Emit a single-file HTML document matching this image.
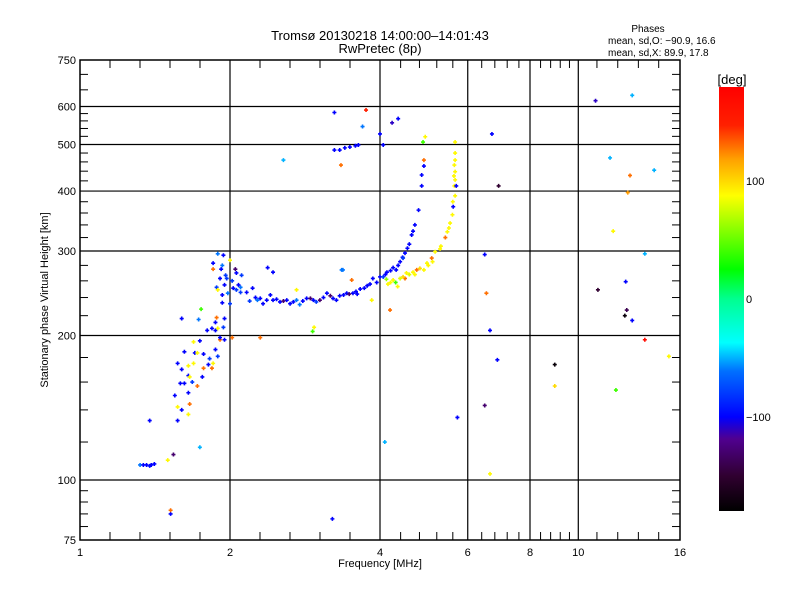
<!DOCTYPE html>
<html><head><meta charset="utf-8">
<style>
html,body{margin:0;padding:0;background:#fff;}
svg{display:block;font-family:"Liberation Sans",sans-serif;}
</style></head>
<body>
<svg id="chart" width="800" height="600" viewBox="0 0 800 600" xmlns="http://www.w3.org/2000/svg">
<defs>
<linearGradient id="cmap" x1="0" y1="1" x2="0" y2="0">
<stop offset="0" stop-color="#000000"/>
<stop offset="0.083" stop-color="#300030"/>
<stop offset="0.17" stop-color="#500090"/>
<stop offset="0.222" stop-color="#0000ff"/>
<stop offset="0.33" stop-color="#0070ff"/>
<stop offset="0.397" stop-color="#00ffff"/>
<stop offset="0.5" stop-color="#00ff90"/>
<stop offset="0.57" stop-color="#00ff00"/>
<stop offset="0.744" stop-color="#ffff00"/>
<stop offset="0.83" stop-color="#ffa000"/>
<stop offset="0.91" stop-color="#ff2000"/>
<stop offset="1" stop-color="#ff0000"/>
</linearGradient>
</defs>
<text x="380" y="40" font-size="13" text-anchor="middle">Tromsø 20130218 14:00:00–14:01:43</text>
<text x="380" y="53" font-size="13" text-anchor="middle">RwPretec (8p)</text>
<text x="648" y="32" font-size="10" text-anchor="middle">Phases</text>
<text x="608" y="44" font-size="10">mean, sd,O: −90.9, 16.6</text>
<text x="608" y="56" font-size="10">mean, sd,X:  89.9, 17.8</text>
<g id="grid"></g>
<g id="marks"></g>
<rect x="80" y="60" width="600" height="480" fill="none" stroke="#000" stroke-width="1.5"/>
<g id="axes"></g>
<text x="380" y="567" font-size="11" text-anchor="middle">Frequency [MHz]</text>
<text x="0" y="0" font-size="11" text-anchor="middle" transform="translate(48,300) rotate(-90)">Stationary phase Virtual Height [km]</text>
<rect x="719" y="87" width="25" height="424" fill="url(#cmap)"/>
<text x="732" y="84" font-size="13" text-anchor="middle">[deg]</text>
<g id="cbticks"></g>
</svg>
<script>
const freqs=[1.32,1.34,1.36,1.38,1.39,1.41,1.38,1.50,1.54,1.52,1.52,
1.57,1.60,1.65,1.57,1.65,1.66,1.59,1.62,1.72,1.76,1.65,1.66,1.57,1.65,1.69,1.77,1.84,1.81,1.85,
1.62,1.70,1.72,1.77,1.82,1.89,1.69,1.87,1.91,1.91,1.95,1.84,1.87,1.89,1.94,1.87,1.88,1.95,1.60,1.73,1.75,
1.89,1.94,2.0,1.85,1.85,1.93,2.05,2.11,1.91,1.97,2.03,2.10,2.16,2.22,2.27,1.88,1.93,2.0,1.89,2.10,1.96,2.06,1.93,
2.30,2.37,2.41,2.44,2.52,2.60,2.72,2.76,2.85,2.94,3.03,3.13,3.22,3.32,3.43,3.53,3.65,3.77,3.87,4.0,4.13,4.25,4.39,4.49,4.54,4.63,4.70,4.78,4.85,4.85,4.90,
2.19,2.33,2.64,2.98,3.27,3.60,3.94,4.06,4.31,4.44,
2.38,2.44,2.72,3.37,3.51,3.85,2.95,2.93,4.19,2.30,
4.15,4.25,4.39,4.52,4.66,4.81,4.97,5.08,5.16,5.28,5.41,5.46,5.53,5.59,5.61,5.66,5.64,5.66,5.66,5.64,5.66,5.66,4.93,4.88,4.90,5.69,4.30,4.49,4.74,4.34,5.0,
3.24,3.32,3.40,3.48,3.57,3.62,3.24,3.75,3.69,4.0,4.23,4.35,4.06,3.34,
2.56,3.35,3.21,4.09,2.02,6.49,6.54,6.65,6.88,6.49,6.65,5.72,6.71,6.92,8.97,8.97,10.83,12.83,11.58,11.75,12.70,12.57,10.95,12.45,12.51,12.4,12.83,13.6,13.6,14.2,15.2,11.9,1.74,
2.25,2.48,2.56,2.68,2.80,2.90,3.08,3.18,3.38,3.47,3.58,3.72,3.82,4.1,4.2,4.35,4.45,4.58,4.66,
4.2,4.45,4.58,4.7,4.9,5.1,5.3,5.5,5.6,5.63,5.66,4.12,
1.95,2.02,2.08,1.98,1.92,2.06,1.55,1.6,1.68,1.74,1.8];
const heights=[107.5,107.5,107.5,107,107.5,108,133,110,113,85,86.5,
133,140,137,142,152,144,159,159,157,164,165,164,175,173,175,171,171,174,175,
185,184,184,183,179,181,194,187,196,198,196,207,205,207,208,213,218,217,217,216,227,
296,294,287,283,275,280,275,267,263,263,251,246,246,251,237,252,234,233,249,252,267,249,243,
239,237,243,237,235,237,237,232,239,237,237,245,239,242,245,245,250,254,263,265,271,277,285,297,304,324,340,365,410,432,451,
236,233,233,235,237,244,258,265,274,291,
277,271,249,274,261,237,208,204,226,198,
256,261,263,270,271,276,283,290,299,303,320,329,343,357,371,391,410,422,439,453,464,506,519,506,464,410,258,263,274,253,280,
487,487,492,494,497,499,583,590,545,526,555,566,499,453,
464,274,83,120,198,295,245,205,178,143,103,135,526,410,174,157,617,633,469,330,431,397,249,259,226,220,215,196,296,442,181,154,117,
240,238,236,235,236,239,240,242,243,244,247,251,256,268,273,280,290,310,330,
258,265,268,268,274,285,307,335,380,430,480,262,
255,260,255,245,275,270,150,170,160,195,205];
const phases=[-60,-100,-100,-95,-100,-100,-100,90,-130,-100,130,
-100,-100,90,90,-100,130,-100,-100,130,-100,-100,90,-100,90,90,130,130,-100,90,
-100,-100,90,-100,-80,-80,90,-100,130,-100,-100,-100,-100,90,-80,-100,130,-100,-100,-60,40,
-60,-100,90,-100,130,-60,-130,-80,-100,-80,-100,-80,-100,-100,-60,-80,-100,-80,90,-60,-80,-80,-100,
-100,-100,-100,-100,-100,-100,-60,-60,-100,-100,-130,-100,-100,-100,-100,-100,-100,-100,-100,-100,-100,-100,-100,-100,-100,-100,-100,-100,-100,-100,-100,
-80,-100,-100,-80,-100,-100,-100,-80,-100,-100,
-100,-100,90,-60,130,90,90,40,130,130,
90,90,80,90,90,100,90,130,90,90,130,90,90,90,-100,90,90,90,90,90,90,90,90,40,130,-100,40,130,130,90,90,
-100,-100,-100,-100,-100,-100,-100,150,-60,-100,-110,-100,-100,130,
-50,-60,-100,-50,130,-100,130,-100,-100,-130,90,-100,-100,-150,-175,100,-110,-50,-50,90,130,120,-150,-100,-140,-175,-100,170,-50,-50,90,40,-50,
-100,-100,-130,-100,-100,-130,-100,-130,-100,-130,-100,-100,-100,-100,-100,-100,-80,-100,-100,
90,100,80,90,90,90,90,90,90,90,90,60,
-100,-80,-100,-60,-100,-100,-100,-100,-80,-100,-100];
const xTickLabels=[1,2,4,6,8,10,16];
const yTickLabels=[75,100,200,300,400,500,600,750];
const cbTickLabels=[100,0,-100];

const NS="http://www.w3.org/2000/svg";
const X0=80,X1=680,Y0=540,Y1=60,FMIN=1,FMAX=16,HMIN=75,HMAX=750;
function xs(f){return X0+(X1-X0)*Math.log(f/FMIN)/Math.log(FMAX/FMIN);}
function ys(h){return Y0-(Y0-Y1)*Math.log(h/HMIN)/Math.log(HMAX/HMIN);}
function cbY(p){return 87+424*(180-p)/360;}
const stops=[[-180,[0,0,0]],[-150,[48,0,48]],[-119,[80,0,144]],[-100,[0,0,255]],[-61,[0,112,255]],[-37,[0,255,255]],[0,[0,255,144]],[25,[0,255,0]],[88,[255,255,0]],[119,[255,160,0]],[148,[255,32,0]],[180,[255,0,0]]];
function color(p){
  for(let i=1;i<stops.length;i++){
    if(p<=stops[i][0]){const a=stops[i-1],b=stops[i];const t=(p-a[0])/(b[0]-a[0]);
      const c=a[1].map((v,k)=>Math.round(v+(b[1][k]-v)*t));return `rgb(${c[0]},${c[1]},${c[2]})`;}
  }
  return 'rgb(255,0,0)';
}
function mk(tag,attrs,parent){const e=document.createElementNS(NS,tag);for(const k in attrs)e.setAttribute(k,attrs[k]);parent.appendChild(e);return e;}

const grid=document.getElementById('grid');
[2,4,6,8,10].forEach(f=>{
  const l=mk('line',{x1:xs(f),x2:xs(f),y1:Y1,y2:Y0,stroke:'#000','stroke-width':1.2},grid);
  
  
});
[100,200,300,400,500,600].forEach(h=>{
  const l=mk('line',{x1:X0,x2:X1,y1:ys(h),y2:ys(h),stroke:'#000','stroke-width':1.2},grid);
  
  
});

const marks=document.getElementById('marks');
for(let i=0;i<freqs.length;i++){
  const x=xs(freqs[i]),y=ys(heights[i]);
  const p=mk('path',{d:`M${x-2},${y}h4M${x},${y-2}v4`,stroke:color(phases[i]),'stroke-width':1.6,fill:'none'},marks);
  
  
}

const axes=document.getElementById('axes');
const xMinor=[];
for(let k=1;k<10;k++){ if(k%5) xMinor.push(Math.pow(2,k/5)); }
[4.4,4.8,5.2,5.6,6.4,6.8,7.2,7.6,8.4,8.8,9.2,9.6,10.9,12,13.2,14.5].forEach(f=>xMinor.push(f));
xMinor.forEach(f=>{
  mk('line',{x1:xs(f),x2:xs(f),y1:Y0,y2:Y0-8,stroke:'#000'},axes);
  mk('line',{x1:xs(f),x2:xs(f),y1:Y1,y2:Y1+8,stroke:'#000'},axes);
});
const yMinor=[80,85,90,95,120,140,160,180,220,240,260,280,320,340,360,380,420,440,460,480,520,540,560,580,650,700];
yMinor.forEach(h=>{
  mk('line',{x1:X0,x2:X0+8,y1:ys(h),y2:ys(h),stroke:'#000'},axes);
  mk('line',{x1:X1,x2:X1-8,y1:ys(h),y2:ys(h),stroke:'#000'},axes);
});
xTickLabels.forEach(f=>{
  const t=mk('text',{x:xs(f),y:556,'font-size':11,'text-anchor':'middle'},axes);
  t.textContent=f;
  
  
});
yTickLabels.forEach(h=>{
  const t=mk('text',{x:76,y:ys(h)+4,'font-size':11,'text-anchor':'end'},axes);
  t.textContent=h;
  
  
});
const cb=document.getElementById('cbticks');
cbTickLabels.forEach(p=>{
  const t=mk('text',{x:746,y:cbY(p)+4,'font-size':11},cb);
  t.textContent=p===-100?'−100':p;
  
  
});
</script>
</body></html>
